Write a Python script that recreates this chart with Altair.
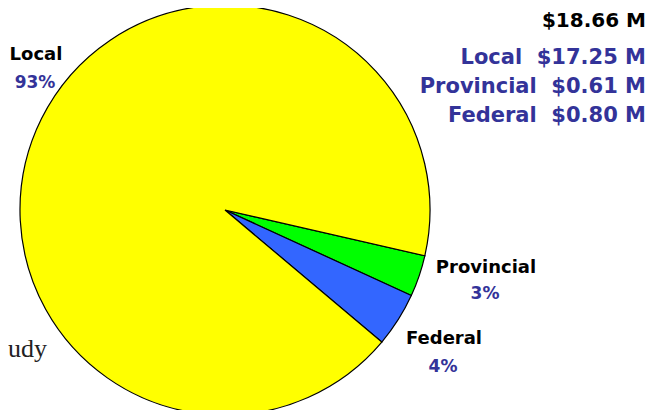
import math
import altair as alt
import pandas as pd

categories = ["Provincial", "Federal", "Local"]
amounts = [0.61, 0.80, 17.25]          # $ millions
percents = ["3%", "4%", "93%"]
slice_colors = ["#00FF00", "#3366FF", "#FFFF00"]
total_label = "$18.66 M"
legend_lines = ["Local\u00a0\u00a0$17.25 M", "Provincial\u00a0\u00a0$0.61 M", "Federal\u00a0\u00a0$0.80 M"]

W, H = 645, 402
CX, CY, R = 217, 202, 205
start = math.radians(102.9)

pie_df = pd.DataFrame({"category": categories, "value": amounts,
                       "order": list(range(len(categories)))})

pie = alt.Chart(pie_df).mark_arc(radius=R, stroke="black", strokeWidth=1.2).encode(
    theta=alt.Theta("value:Q", stack=True,
                    scale=alt.Scale(range=[start, start + 2 * math.pi])),
    color=alt.Color("category:N",
                    scale=alt.Scale(domain=categories, range=slice_colors),
                    legend=None),
    order=alt.Order("order:Q"),
    x=alt.value(CX), y=alt.value(CY),
)

FONT = "DejaVu Sans"
BLUE = "#333399"

def txt(s, x, y, size, color, align="center", font=FONT, weight="bold"):
    return alt.Chart(pd.DataFrame({"t": [s]})).mark_text(
        font=font, fontSize=size, fontWeight=weight, color=color,
        align=align, baseline="alphabetic"
    ).encode(text="t:N", x=alt.value(x), y=alt.value(y))

# pie labels: name (black) + percent (blue); chart coords = image - 8
label_pos = {"Local": (28, 52), "Provincial": (478, 265), "Federal": (436, 336)}
pct_pos = {"Local": (27, 80), "Provincial": (477, 291), "Federal": (435, 364)}
layers = [pie]
for c, p in zip(categories, percents):
    lx, ly = label_pos[c]
    px, py = pct_pos[c]
    layers.append(txt(c, lx, ly, 18, "black"))
    layers.append(txt(p, px, py, 17, BLUE))

layers.append(txt(total_label, 638, 19, 20, "black", align="right"))
for i, line in enumerate(legend_lines):
    layers.append(txt(line, 638, 56 + i * 29, 21, BLUE, align="right"))

layers.append(txt("udy", 0, 349, 26, "#222222", align="left",
                  font="Liberation Serif", weight="normal"))

chart = alt.layer(*layers).properties(
    width=W, height=H, padding=0, autosize=alt.AutoSizeParams(type="none")
).configure_view(stroke=None)

chart.save("out.html", embed_options={"renderer": "svg", "actions": False})
